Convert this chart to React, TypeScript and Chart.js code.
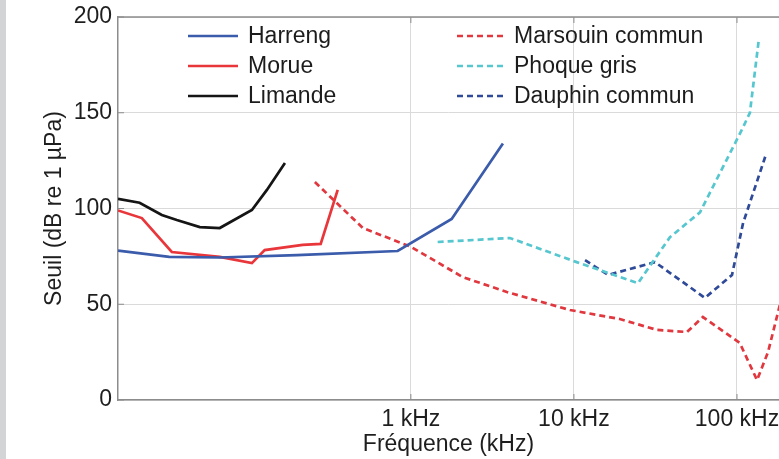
import React, { useEffect, useRef } from 'react';
import { Chart, registerables } from 'chart.js';
Chart.register(...registerables);

// ---- data (frequency in kHz, threshold in dB re 1 µPa) ----
const harrengX = [0.016, 0.033, 0.067, 0.2, 0.83, 1.78, 3.67];
const harrengY = [78, 74.7, 74.4, 75.7, 77.8, 94.5, 134];
const morueX = [0.016, 0.0224, 0.0342, 0.0673, 0.106, 0.127, 0.217, 0.28, 0.356];
const morueY = [99, 95, 77.3, 74.7, 71.5, 78.3, 81, 81.5, 109.7];
const limandeX = [0.016, 0.0217, 0.0297, 0.0367, 0.0508, 0.0673, 0.106, 0.131, 0.169];
const limandeY = [105, 103, 96.6, 94, 90.3, 89.8, 99.2, 109.7, 123.7];
const marsouinX = [0.258, 0.508, 1.0, 2.08, 3.88, 9.45, 19.1, 32.3, 49.3, 61.8, 104, 132.7, 155, 190];
const marsouinY = [113.8, 89.8, 80, 64.2, 56.4, 47, 42.3, 36.6, 35.5, 43.3, 29.8, 10.4, 25, 55];
const phoqueX = [1.46, 4.05, 10.4, 24.7, 38.8, 59.3, 107, 120, 136];
const phoqueY = [82.5, 84.6, 72, 61, 85, 98, 141, 150, 188];
const dauphinX = [11.7, 16.2, 31.4, 63.6, 93.2, 109, 149];
const dauphinY = [73, 65.3, 72, 53.3, 65.3, 92.4, 127];

const seriesNames = ['Harreng', 'Morue', 'Limande', 'Marsouin commun', 'Phoque gris', 'Dauphin commun'];
const xTickValues = [1, 10, 100];
const xTickLabels = ['1 kHz', '10 kHz', '100 kHz'];
const yTickValues = [0, 50, 100, 150, 200];

const FONT = '"Liberation Sans", Arial, Helvetica, sans-serif';
const colors = ['#3b5bab', '#e8363b', '#151515', '#e0383e', '#56c6cf', '#2e4a98'];

const pts = (xs: number[], ys: number[]) => xs.map((x, i) => ({ x, y: ys[i] }));

const framePlugin = {
  id: 'frame',
  afterDatasetsDraw(chart: any) {
    const { ctx, chartArea, scales } = chart;
    const { left, right, top, bottom } = chartArea;
    ctx.save();
    ctx.strokeStyle = '#8c8c8c';
    ctx.lineWidth = 1.5;
    ctx.beginPath();
    ctx.moveTo(left, top);
    ctx.lineTo(right + 2, top);
    ctx.stroke();
    ctx.lineWidth = 1;
    xTickValues.forEach((v) => {
      const px = scales.x.getPixelForValue(v);
      ctx.beginPath();
      ctx.moveTo(px, bottom);
      ctx.lineTo(px, bottom - 6);
      ctx.moveTo(px, top);
      ctx.lineTo(px, top + 6);
      ctx.stroke();
    });
    yTickValues.forEach((v) => {
      const py = scales.y.getPixelForValue(v);
      ctx.beginPath();
      ctx.moveTo(left, py);
      ctx.lineTo(left + 6, py);
      ctx.stroke();
    });
    ctx.restore();
  },
};

const legendPlugin = {
  id: 'customLegend',
  afterDraw(chart: any) {
    const { ctx } = chart;
    const cols = [
      { lineX0: 188, lineX1: 238, textX: 248 },
      { lineX0: 457, lineX1: 504, textX: 514 },
    ];
    const rowsY = [36, 66, 96];
    ctx.save();
    chart.data.datasets.forEach((ds: any, i: number) => {
      const c = cols[Math.floor(i / 3)];
      const y = rowsY[i % 3];
      ctx.strokeStyle = ds.borderColor;
      ctx.lineWidth = ds.borderWidth;
      ctx.setLineDash(ds.borderDash || []);
      ctx.beginPath();
      ctx.moveTo(c.lineX0, y);
      ctx.lineTo(c.lineX1, y);
      ctx.stroke();
      ctx.setLineDash([]);
      ctx.fillStyle = '#1c1c1c';
      ctx.font = `23px ${FONT}`;
      ctx.textBaseline = 'middle';
      ctx.textAlign = 'left';
      ctx.fillText(ds.label, c.textX, y + 1);
    });
    ctx.restore();
  },
};

export default function App() {
  const ref = useRef<HTMLCanvasElement>(null);
  useEffect(() => {
    const all = [
      pts(harrengX, harrengY),
      pts(morueX, morueY),
      pts(limandeX, limandeY),
      pts(marsouinX, marsouinY),
      pts(phoqueX, phoqueY),
      pts(dauphinX, dauphinY),
    ];
    const chart = new Chart(ref.current!, {
      type: 'line',
      data: {
        datasets: all.map((d, i) => ({
          label: seriesNames[i],
          data: d,
          borderColor: colors[i],
          backgroundColor: colors[i],
          borderWidth: 2.7,
          borderDash: i >= 3 ? [6, 4] : undefined,
          pointRadius: 0,
          tension: 0,
          fill: false,
        })),
      },
      plugins: [framePlugin, legendPlugin],
      options: {
        animation: false,
        responsive: false,
        maintainAspectRatio: false,
        layout: { padding: { left: 0, right: 0, top: 17, bottom: 0 } },
        plugins: { legend: { display: false }, tooltip: { enabled: false } },
        scales: {
          x: {
            type: 'logarithmic',
            min: 0.016,
            max: 181,
            afterBuildTicks: (s: any) => {
              s.ticks = xTickValues.map((v) => ({ value: v }));
            },
            afterFit: (s: any) => {
              s.height = 59;
              s.paddingLeft = 0;
              s.paddingRight = 0;
            },
            ticks: {
              autoSkip: false,
              maxRotation: 0,
              padding: 6,
              color: '#1e1e1e',
              font: { family: FONT, size: 23 },
              callback: (v: any) => {
                const idx = xTickValues.indexOf(Number(v));
                return idx >= 0 ? xTickLabels[idx] : '';
              },
            },
            grid: { color: '#dadada', lineWidth: 1, drawTicks: false },
            border: { display: true, color: '#8c8c8c', width: 1.5 },
            title: {
              display: true,
              text: 'Fréquence (kHz)',
              color: '#1e1e1e',
              font: { family: FONT, size: 23 },
              padding: { top: 0, bottom: 1 },
            },
          },
          y: {
            min: 0,
            max: 200,
            afterBuildTicks: (s: any) => {
              s.ticks = yTickValues.map((v) => ({ value: v }));
            },
            afterFit: (s: any) => {
              s.width = 118;
              s.paddingTop = 0;
              s.paddingBottom = 0;
            },
            ticks: {
              padding: 6,
              color: '#1e1e1e',
              font: { family: FONT, size: 23 },
            },
            grid: { color: '#dadada', lineWidth: 1, drawTicks: false },
            border: { display: true, color: '#8c8c8c', width: 1.5 },
            title: {
              display: true,
              text: 'Seuil (dB re 1 µPa)',
              color: '#1e1e1e',
              font: { family: FONT, size: 23 },
              padding: { top: 41, bottom: 0 },
            },
          },
        },
      },
    } as any);
    return () => chart.destroy();
  }, []);
  return (
    <div style={{ position: 'fixed', left: 0, top: 0, width: 779, height: 459, background: '#fff', overflow: 'hidden' }}>
      <canvas ref={ref} width={779} height={459} style={{ position: 'absolute', left: 0, top: 0, width: 779, height: 459 }} />
      <div style={{ position: 'absolute', left: 0, top: 0, width: 6, height: 459, background: '#d3d4d6' }} />
    </div>
  );
}
